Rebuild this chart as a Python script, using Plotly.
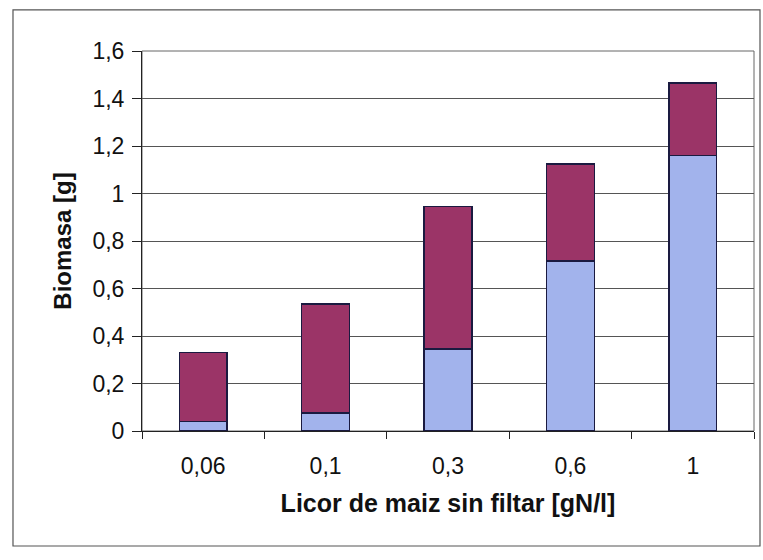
import plotly.graph_objects as go

categories = ["0,06", "0,1", "0,3", "0,6", "1"]
lower_values = [0.04, 0.075, 0.345, 0.715, 1.16]
upper_values = [0.29, 0.46, 0.60, 0.41, 0.305]
y_ticks = [0, 0.2, 0.4, 0.6, 0.8, 1.0, 1.2, 1.4, 1.6]
y_ticklabels = ["0", "0,2", "0,4", "0,6", "0,8", "1", "1,2", "1,4", "1,6"]

font_family = "Liberation Sans, Arial, sans-serif"

fig = go.Figure()
fig.add_trace(go.Bar(x=categories, y=lower_values, marker=dict(color="#a2b3ec", line=dict(color="#1a1a40", width=1.5)), showlegend=False))
fig.add_trace(go.Bar(x=categories, y=upper_values, marker=dict(color="#9b3467", line=dict(color="#1a1a40", width=1.5)), showlegend=False))

fig.update_layout(
    barmode="stack",
    bargap=0.61,
    width=763, height=560,
    margin=dict(l=142, r=9, t=51, b=129),
    paper_bgcolor="white",
    plot_bgcolor="white",
    font=dict(family=font_family, color="#111"),
    xaxis=dict(
        type="category",
        tickson="boundaries",
        ticks="outside", ticklen=7, tickcolor="#222",
        ticklabelstandoff=14,
        showline=True, linecolor="#222", linewidth=1,
        showgrid=False,
        tickfont=dict(size=23, color="#111"),
        title=dict(text="<b>Licor de maiz sin filtar [gN/l]</b>", font=dict(size=25, color="#111"), standoff=16),
    ),
    yaxis=dict(
        range=[0, 1.6],
        tickvals=y_ticks, ticktext=y_ticklabels,
        ticks="outside", ticklen=9, tickcolor="#222",
        ticklabelstandoff=3,
        showline=True, linecolor="#222", linewidth=1,
        showgrid=True, gridcolor="#555", gridwidth=1,
        zeroline=False,
        tickfont=dict(size=23, color="#111"),
        title=dict(text="<b>Biomasa [g]</b>", font=dict(size=24, color="#111"), standoff=14),
    ),
    shapes=[
        dict(type="rect", xref="paper", yref="paper", x0=0, x1=1, y0=0, y1=1,
             line=dict(color="#666", width=1), layer="below"),
        dict(type="rect", xref="paper", yref="paper", x0=-0.2108, x1=1.0098, y0=-0.3026, y1=1.108,
             line=dict(color="#555", width=1.2)),
    ],
)

fig.write_html("out.html")
